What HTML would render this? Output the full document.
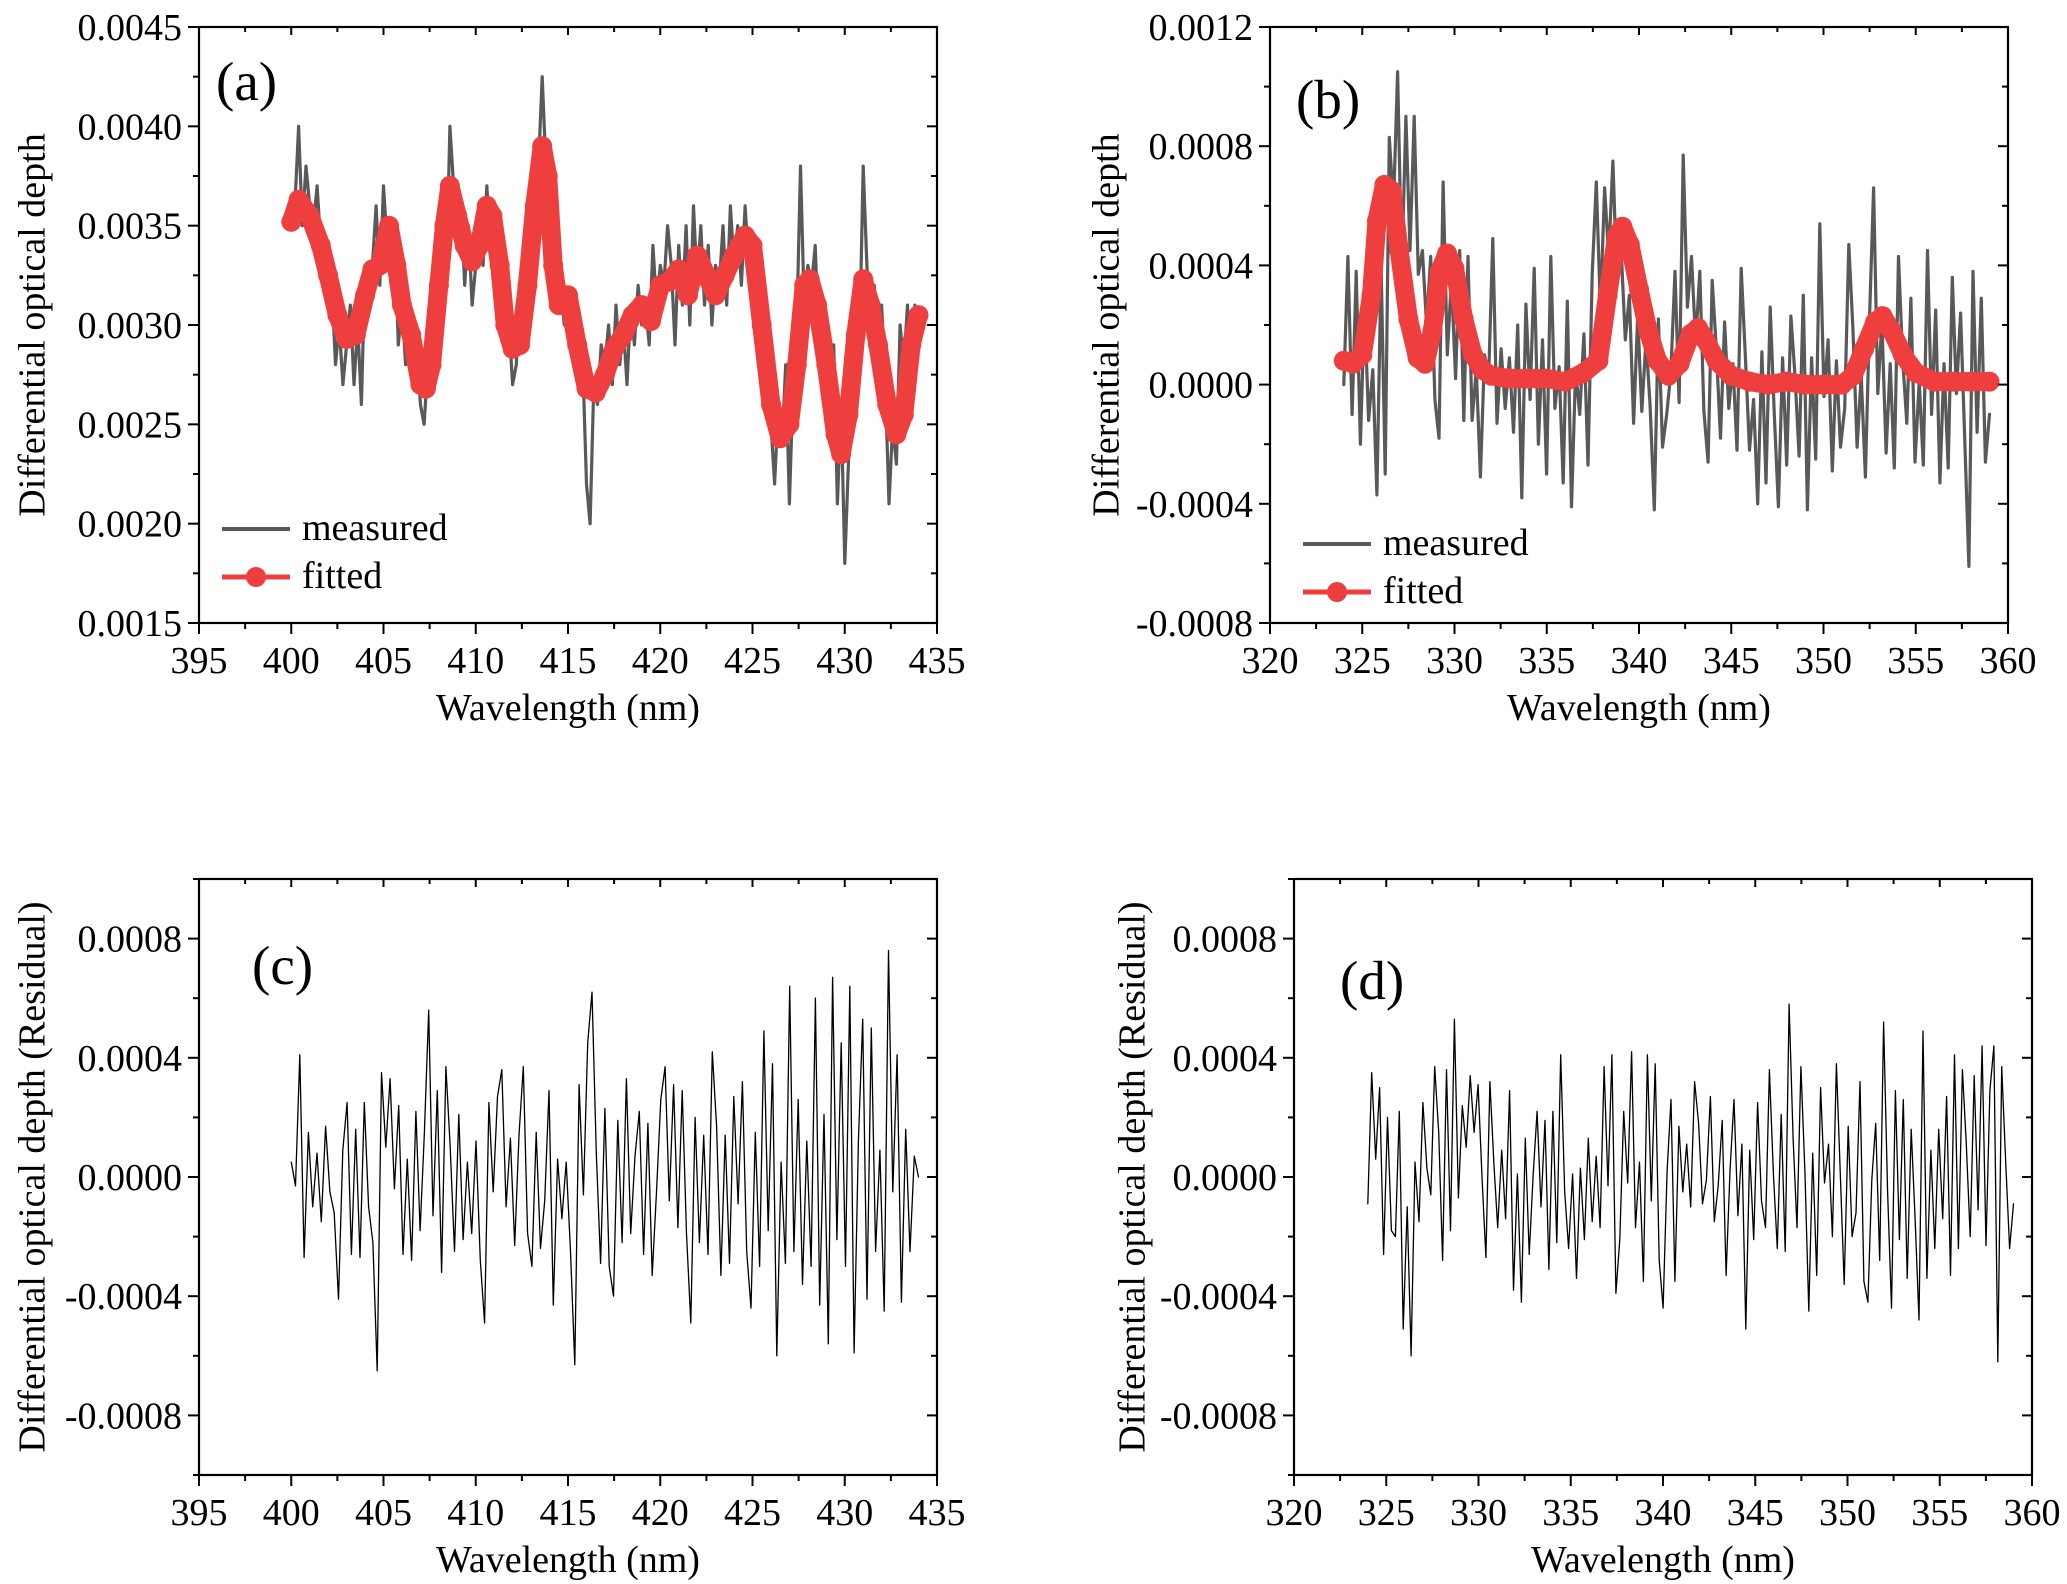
<!DOCTYPE html>
<html><head><meta charset="utf-8">
<style>
html,body{margin:0;padding:0;background:#fff;}
svg{display:block;font-family:"Liberation Serif",serif;}
</style></head>
<body>
<svg id="chart" width="2067" height="1584" viewBox="0 0 2067 1584" xmlns="http://www.w3.org/2000/svg" font-family="Liberation Serif, serif">
</svg>
<script>
// ---------- data (units of 1e-4) ----------
const aFitX = [400,400.4,401,401.6,402,402.5,403,403.5,404,404.4,404.8,405.3,405.7,406,406.5,407,407.3,407.6,408,408.3,408.6,409,409.4,409.8,410.2,410.6,410.9,411.3,411.6,412,412.4,412.8,413.2,413.6,413.9,414.2,414.5,415,415.5,416,416.5,417,417.5,418,418.5,419,419.5,420,420.5,421,421.5,422,422.5,423,423.5,424,424.6,425,425.5,426,426.5,427,427.4,427.8,428.1,428.5,429,429.5,429.8,430.2,430.6,431,431.4,431.8,432.3,432.8,433.2,433.6,434];
const aFitY = [35.2,36.3,35.5,34,32.5,30.5,29.3,29.5,31.5,32.8,33,35,33,31,29.5,27,26.8,28,32,35,37,35.5,34,33.2,34,36,35.5,33,30,28.8,29,32,36,39,37.5,33,31,31.5,29,26.8,26.6,27.5,28.8,29.5,30.5,31,30.2,32,32.2,32.8,31.5,33.5,32.5,31.5,32.5,33.5,34.5,34,30,26,24.3,25,28,32,32.3,31,28,24.5,23.5,25.5,29.5,32.3,31,29,26,24.5,25.5,29,30.5];
const aMeas = [35,36,40,35,38,36,35,37,34,33,31,32,28,30,27,29,31,27,30,26,33,31,33,36,32,37,34,33,35,29,31,28,30,27,29,26,25,28,27,31,33,36,32,40,37,34,36,32,35,31,33,34,33,37,34,35,32,31,29,30,27,28,32,30,34,37,35,38,42.5,38,34,33,31,32,30,31,29,31,27,28,22,20,27,26,29,28,30,27,31,28,30,27,31,29,32,30,31,29,34,31,33,32,35,33,29,34,31,35,30,36,32,35,31,34,30,33,32,35,31,36,33,35,32,36,33,31,29,33,26,29,25,22,26,24,28,21,27,30,38,31,33,32,34,29,31,27,25,29,21,26,18,23,27,31,29,38,33,30,32,28,31,27,21,25,23,30,28,31,27,31,30];
const cRes = [0.5,-0.3,4.1,-2.7,1.5,-1.0,0.8,-1.5,1.7,-0.5,-1.2,-4.1,0.9,2.5,-2.6,1.6,-2.7,2.5,-1.0,-2.2,-6.5,3.5,1.0,3.3,-0.4,2.4,-2.6,0.6,-2.8,2.2,-1.8,1.5,5.6,-1.3,2.9,-3.2,3.7,1.0,-2.5,2.1,-2.1,0.5,-1.9,1.2,-2.8,-4.9,2.5,-0.5,2.7,3.6,-1.0,1.3,-2.3,1.4,3.7,-1.9,-3.0,1.5,-2.4,-0.8,2.9,-4.3,0.6,-1.4,0.5,-2.5,-6.3,3.1,-0.6,4.5,6.2,0.8,-2.9,2.3,-3.0,-4.0,1.9,-2.2,3.3,-1.9,0.7,2.2,-2.6,1.8,-3.3,-0.5,2.6,3.7,-0.8,3.1,-1.7,2.9,-1.9,-4.9,2.0,-2.2,1.4,-2.6,4.2,1.7,-3.3,1.4,-2.9,2.7,-0.9,3.2,-2.5,-4.4,1.5,-3.0,4.9,-1.8,3.8,-6.0,0.5,-2.9,6.4,-2.5,2.6,-3.6,1.2,-3.0,6.0,-4.3,2.1,-5.6,6.7,-2.1,4.5,-3.0,6.4,-5.9,1.2,5.3,-4.1,5.0,-2.5,0.9,-4.5,7.6,-0.5,4.1,-4.2,1.6,-2.5,0.7,0.0];
const bFitX = [324,324.5,325,325.5,325.8,326.2,326.6,327,327.5,328,328.4,328.8,329.2,329.6,330,330.5,331,331.5,332,333,334,335,336,337,337.8,338.3,338.8,339.1,339.5,340,340.5,341,341.6,342.2,342.8,343.2,343.6,344.2,345,346,347,348,349,350,351,351.6,352.2,352.8,353.2,353.7,354.3,355,356,357,358,359];
const bFitY = [0.8,0.7,1,3,5.5,6.7,6.5,4.5,2.2,0.9,0.7,1.8,3.8,4.4,3.9,2.2,1,0.5,0.3,0.2,0.2,0.2,0.1,0.4,0.8,3,5,5.3,4.7,3.2,1.8,0.8,0.3,0.7,1.7,1.9,1.5,0.8,0.3,0.1,0,0.1,0,0,0,0.3,1.2,2.1,2.3,1.8,1,0.4,0.1,0.1,0.1,0.1];
const bMeas = [0,4.3,-1,3.8,-2,2.7,-1.2,0.5,-3.7,4,-3,8.3,6,10.5,3.8,9,4.5,9,3.7,4.5,2,4.3,-0.5,-1.8,6.8,1,3.5,0.2,4.5,-1.2,4.3,-1.2,0.5,-3.1,1,0.3,4.9,-1.3,1.2,-0.8,0.9,-1.6,2,-3.8,2.7,-0.5,3.9,-2,1.5,-3,4.3,-0.8,0.6,-3.3,2.8,-4.1,0.5,-1,1.7,-2.7,3.7,6.8,2.5,6.6,4.3,7.5,3.4,4.6,1.5,3,-1.3,2.3,-0.9,1.5,-0.7,-4.2,2.2,-2.1,-1,0.4,3.8,-0.6,7.7,2.6,4.3,1.4,3.8,-0.9,-2.6,3.5,1.2,-1.8,2.1,-0.8,0.7,-2.2,3.9,1,-2.2,-0.5,-4,1.1,-3.3,2.6,-1,-4.1,0.9,-2.7,2.3,0.3,-2.4,3,-4.2,0.9,-2.5,5.4,-0.4,1.5,-2.9,0.8,-2.1,-0.8,4.7,1.9,-2.1,0.3,-3.1,2.2,6.6,-0.3,2.1,-2.3,0.7,-2.8,4.3,0.9,-1.3,2.9,-2.6,0.1,-2.7,4.5,-1,2.5,-3.3,0.7,-2.8,3.6,-0.3,2.4,-1.8,-6.1,3.8,-1.6,2.9,-2.6,-1];
const dRes = [-0.9,3.5,0.6,3,-2.6,2,-1.8,-2,2.2,-5.1,-1,-6,0.5,-1.5,2.5,0.3,-0.6,3.7,1.5,-2.8,3.6,-1.8,5.3,-0.7,2.4,1,3.4,1.5,3.1,0,-2.7,3.2,0.5,-1.7,0.9,-1.4,2.9,-3.8,0.1,-4.2,1.3,-2.6,0.1,2.2,-1,1.9,-3.1,2.2,-2.2,4.1,-0.5,-2.4,0.1,-3.4,0.3,-2.1,1.3,-1.5,0.7,-1.7,3.7,-0.3,4.1,-3.9,-2.1,2.2,-0.2,4.2,-1.7,0.5,-3.5,4.1,-0.8,3.8,-2.8,-4.4,0.2,2.6,-3.5,1.7,-0.5,1.1,-1,3.2,1.8,-0.9,-0.1,2.7,-1.5,-0.3,1.9,-3.3,0.2,2.6,-1.3,1.1,-5.1,0.9,-2.1,2.5,-0.8,-1.7,3.6,0.1,-2.4,2.1,-2.5,5.8,1.3,-1.7,3.7,0.2,-4.5,0.8,-3.3,3.0,-0.2,1.1,-2,3.8,0.1,-3.6,1.7,-2,-1.2,3.2,-3.5,-4.2,-0.1,1.8,-2.8,5.2,-0.5,-4.4,2.9,-2.1,2.6,-3.4,1.6,-1.4,-4.8,4.9,-3.4,0.9,-2.4,1.6,-1.4,2.7,-3.3,4.1,-2.4,3.6,1.1,-2,3.4,-1.1,4.4,-2.3,2.9,4.4,-6.2,3.7,0.5,-2.4,-0.9];
const aXTicks = [395,400,405,410,415,420,425,430,435];
const bXTicks = [320,325,330,335,340,345,350,355,360];
const aYTicks = ["0.0015","0.0020","0.0025","0.0030","0.0035","0.0040","0.0045"];
const bYTicks = ["-0.0008","-0.0004","0.0000","0.0004","0.0008","0.0012"];
const cdYTicks = ["-0.0008","-0.0004","0.0000","0.0004","0.0008"];

const NS = "http://www.w3.org/2000/svg";
const svg = document.getElementById('chart');
function el(tag, attrs, parent){ const e=document.createElementNS(NS,tag); for(const k in attrs) e.setAttribute(k,attrs[k]); (parent||svg).appendChild(e); return e; }

function panel(p){
  const g = el('g',{});
  
  
  const sx = v => p.L + (v - p.x0)/(p.x1 - p.x0)*(p.R - p.L);
  const sy = v => p.B - (v - p.y0)/(p.y1 - p.y0)*(p.B - p.T);
  p.series.forEach(s=>{
    const n = s.y.length;
    const xs = s.x ? s.x : s.y.map((_,i)=> s.xa + i*(s.xb - s.xa)/(n-1));
    const d = s.y.map((v,i)=>(i?'L':'M')+sx(xs[i]).toFixed(1)+','+sy(v*1e-4).toFixed(1)).join('');
    const path = el('path',{d:d,fill:'none',stroke:s.color,'stroke-width':s.w,'stroke-linejoin':'round','stroke-linecap':'round'},g);
    
    
    if(s.markers){
      s.y.forEach((v,i)=>{
        const c = el('circle',{cx:sx(xs[i]).toFixed(1),cy:sy(v*1e-4).toFixed(1),r:10,fill:s.color},g);
        
        
      });
    }
  });
  const fr = el('rect',{x:p.L,y:p.T,width:p.R-p.L,height:p.B-p.T,fill:'none',stroke:'#000','stroke-width':2.2},g);
  
  
  const xt = p.xticks;
  xt.forEach((v,i)=>{
    const x = sx(v);
    el('line',{x1:x,y1:p.B,x2:x,y2:p.B+11,stroke:'#000','stroke-width':2},g);
    el('line',{x1:x,y1:p.T,x2:x,y2:p.T+8,stroke:'#000','stroke-width':2},g);
    if(i<xt.length-1){ const xm = sx((v+xt[i+1])/2);
      el('line',{x1:xm,y1:p.B,x2:xm,y2:p.B+6,stroke:'#000','stroke-width':2},g);
      el('line',{x1:xm,y1:p.T,x2:xm,y2:p.T+5,stroke:'#000','stroke-width':2},g);}
    const t = el('text',{x:x,y:p.B+50,'font-size':38,'text-anchor':'middle'},g);
    t.textContent = v;
    
    
  });
  const yt = p.yticks;
  yt.forEach((lab,i)=>{
    const v = parseFloat(lab), y = sy(v);
    el('line',{x1:p.L-11,y1:y,x2:p.L,y2:y,stroke:'#000','stroke-width':2},g);
    el('line',{x1:p.R-10,y1:y,x2:p.R,y2:y,stroke:'#000','stroke-width':2},g);
    if(i<yt.length-1){ const ym = sy((v+parseFloat(yt[i+1]))/2);
      el('line',{x1:p.L-6,y1:ym,x2:p.L,y2:ym,stroke:'#000','stroke-width':2},g);
      el('line',{x1:p.R-6,y1:ym,x2:p.R,y2:ym,stroke:'#000','stroke-width':2},g);}
    const t = el('text',{x:p.L-17,y:y+13,'font-size':38,'text-anchor':'end'},g);
    t.textContent = lab;
    
    
  });
  if(p.extraMinor){ p.extraMinor.forEach(v=>{ const y=sy(v);
    el('line',{x1:p.L-6,y1:y,x2:p.L,y2:y,stroke:'#000','stroke-width':2},g);
    el('line',{x1:p.R-6,y1:y,x2:p.R,y2:y,stroke:'#000','stroke-width':2},g);});}
  const xtitle = el('text',{x:(p.L+p.R)/2,y:p.B+97,'font-size':38,'text-anchor':'middle'},g);
  xtitle.textContent = 'Wavelength (nm)';
  
  
  const cy = (p.T+p.B)/2;
  const ytitle = el('text',{x:p.ytx,y:cy,'font-size':38,'text-anchor':'middle',transform:`rotate(-90 ${p.ytx} ${cy})`,'dominant-baseline':'middle'},g);
  ytitle.textContent = p.ytitle;
  
  
  const pl = el('text',{x:p.plx,y:p.ply,'font-size':55},g);
  pl.textContent = p.label;
  
  
  if(p.legend){
    const lg = el('g',{},g);
    
    
    const [lx,ly] = p.legend;
    el('line',{x1:lx,y1:ly,x2:lx+68,y2:ly,stroke:'#595959','stroke-width':4},lg);
    const t1 = el('text',{x:lx+80,y:ly+11,'font-size':38},lg); t1.textContent='measured';
    
    
    el('line',{x1:lx,y1:ly+48,x2:lx+68,y2:ly+48,stroke:'#ef3e3e','stroke-width':5},lg);
    el('circle',{cx:lx+34,cy:ly+48,r:10,fill:'#ef3e3e'},lg);
    const t2 = el('text',{x:lx+80,y:ly+59,'font-size':38},lg); t2.textContent='fitted';
    
    
  }
}

panel({name:'panel-a',L:199,R:937,T:27,B:623,x0:395,x1:435,y0:0.0015,y1:0.0045,xticks:aXTicks,yticks:aYTicks,
  ytx:36,ytitle:'Differential optical depth',label:'(a)',plx:216,ply:100,legend:[222,529],
  series:[{id:'measured',y:aMeas,xa:400,xb:434,color:'#595959',w:3.2},
          {id:'fitted',x:aFitX,y:aFitY,color:'#ef3e3e',w:19,markers:true}]});
panel({name:'panel-b',L:1270,R:2008,T:27,B:623,x0:320,x1:360,y0:-0.0008,y1:0.0012,xticks:bXTicks,yticks:bYTicks,
  ytx:1110,ytitle:'Differential optical depth',label:'(b)',plx:1296,ply:118,legend:[1303,544],
  series:[{id:'measured',y:bMeas,xa:324,xb:359,color:'#595959',w:3.2},
          {id:'fitted',x:bFitX,y:bFitY,color:'#ef3e3e',w:19,markers:true}]});
panel({name:'panel-c',L:199,R:937,T:879,B:1475,x0:395,x1:435,y0:-0.001,y1:0.001,xticks:aXTicks,yticks:cdYTicks,extraMinor:[-0.001,0.001],
  ytx:36,ytitle:'Differential optical depth (Residual)',label:'(c)',plx:252,ply:984,
  series:[{id:'residual',y:cRes,xa:400,xb:434,color:'#000',w:1.3}]});
panel({name:'panel-d',L:1294,R:2032,T:879,B:1475,x0:320,x1:360,y0:-0.001,y1:0.001,xticks:bXTicks,yticks:cdYTicks,extraMinor:[-0.001,0.001],
  ytx:1136,ytitle:'Differential optical depth (Residual)',label:'(d)',plx:1340,ply:999,
  series:[{id:'residual',y:dRes,xa:324,xb:359,color:'#000',w:1.3}]});
</script>
</body></html>
